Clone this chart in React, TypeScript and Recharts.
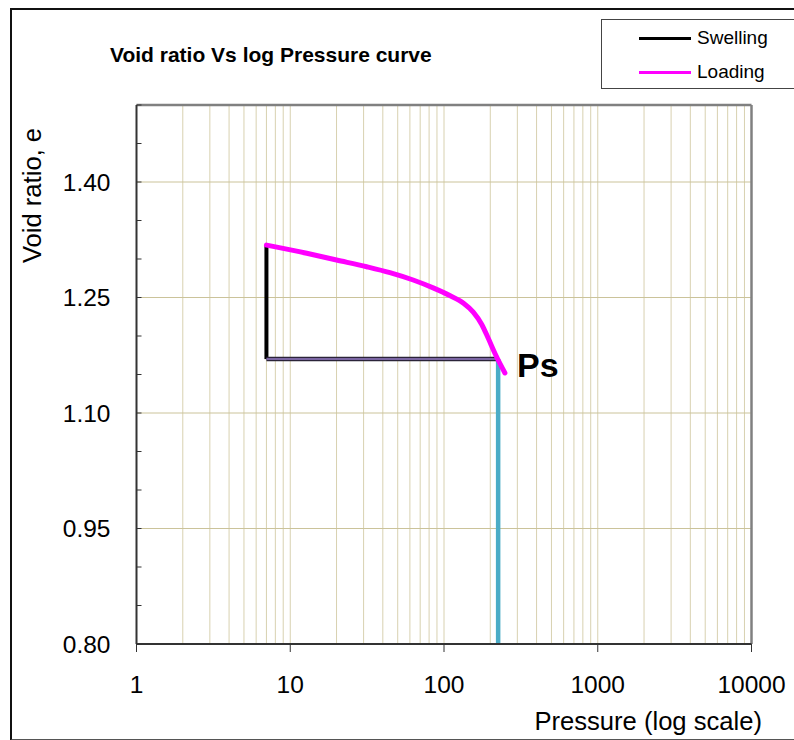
import React from 'react';
import { ComposedChart, Line, XAxis, YAxis, ReferenceLine } from 'recharts';

// swelling branch (black)
const swelling = [
  { p: 7, e: 1.318 },
  { p: 7, e: 1.17 },
];

// horizontal link at e0 up to Ps
const baseLine = [
  { p: 7, e: 1.17 },
  { p: 225, e: 1.17 },
];

// drop line from Ps to the axis
const psDrop = [
  { p: 225, e: 1.17 },
  { p: 225, e: 0.8 },
];

// loading curve (magenta)
const loading = [
  { p: 7, e: 1.318 },
  { p: 12.8, e: 1.3074 },
  { p: 20, e: 1.2987 },
  { p: 31.4, e: 1.29 },
  { p: 44.5, e: 1.2823 },
  { p: 63, e: 1.2727 },
  { p: 85, e: 1.2625 },
  { p: 109, e: 1.2525 },
  { p: 134, e: 1.2425 },
  { p: 155, e: 1.231 },
  { p: 176, e: 1.215 },
  { p: 194, e: 1.197 },
  { p: 215, e: 1.177 },
  { p: 249, e: 1.152 },
];

const xTicks = [1, 10, 100, 1000, 10000];
const yMajor = [0.8, 0.95, 1.1, 1.25, 1.4];
const yTicks = [0.8, 0.85, 0.9, 0.95, 1.0, 1.05, 1.1, 1.15, 1.2, 1.25, 1.3, 1.35, 1.4, 1.45, 1.5];
const xGrid = [
  2, 3, 4, 5, 6, 7, 8, 9, 10,
  20, 30, 40, 50, 60, 70, 80, 90, 100,
  200, 300, 400, 500, 600, 700, 800, 900, 1000,
  2000, 3000, 4000, 5000, 6000, 7000, 8000, 9000,
];
const yGrid = [0.95, 1.1, 1.25, 1.4];

const FONT = '"Liberation Sans", Arial, sans-serif';

const YTick = (props: any) => {
  const { x, y, payload } = props;
  const v = payload.value;
  const major = yMajor.some(m => Math.abs(m - v) < 1e-6);
  return (
    <g>
      <line x1={x} x2={x + 5} y1={y} y2={y} stroke="#333" strokeWidth={1} />
      {major && (
        <text x={x - 26} y={y} dy="0.36em" textAnchor="end" fontSize={24.5} fill="#000" fontFamily={FONT}>
          {v.toFixed(2)}
        </text>
      )}
    </g>
  );
};

export default function App() {
  return (
    <div style={{ position: 'absolute', left: 0, top: 0, width: 794, height: 740, overflow: 'hidden', background: '#fff', fontFamily: FONT }}>
      {/* outer frame, right side runs off the page */}
      <div style={{ position: 'absolute', left: 10, top: 8, width: 820, height: 729, borderLeft: '2.5px solid #111', borderTop: '2px solid #111', borderBottom: '2px solid #555' }} />

      <div style={{ position: 'absolute', left: 0, top: 0 }}>
        <ComposedChart width={794} height={740} margin={{ top: 105, right: 42.5, bottom: 56, left: 76.5 }}>
          <XAxis
            type="number"
            dataKey="p"
            scale="log"
            domain={[1, 10000]}
            ticks={xTicks}
            allowDataOverflow
            height={40}
            axisLine={{ stroke: '#333', strokeWidth: 2 }}
            tickLine={{ stroke: '#333' }}
            tickSize={8}
            tickMargin={23.5}
            tick={{ fontSize: 24.5, fill: '#000', fontFamily: FONT }}
          />
          <YAxis
            type="number"
            dataKey="e"
            domain={[0.8, 1.5]}
            ticks={yTicks}
            interval={0}
            allowDataOverflow
            width={60}
            axisLine={{ stroke: '#333', strokeWidth: 2 }}
            tickLine={false}
            tickSize={0}
            tickMargin={0}
            tick={<YTick />}
          />
          {xGrid.map(v => (
            <ReferenceLine key={'gx' + v} x={v} stroke="#d8d1b0" strokeWidth={1} />
          ))}
          {yGrid.map(v => (
            <ReferenceLine key={'gy' + v} y={v} stroke="#cbc39a" strokeWidth={1} />
          ))}
          <ReferenceLine y={1.5} stroke="#808080" strokeWidth={2.5} />
          <ReferenceLine x={10000} stroke="#808080" strokeWidth={2.5} />

          <Line data={psDrop} dataKey="e" stroke="#4bacc6" strokeWidth={4.5} dot={false} isAnimationActive={false} legendType="none" />
          <Line data={swelling} dataKey="e" name="Swelling" stroke="#000" strokeWidth={4} dot={false} isAnimationActive={false} />
          <Line data={baseLine} dataKey="e" stroke="#2b2438" strokeWidth={4.5} dot={false} isAnimationActive={false} legendType="none" />
          <Line data={baseLine} dataKey="e" stroke="#7b66a3" strokeWidth={2} dot={false} isAnimationActive={false} legendType="none" />
          <Line data={loading} dataKey="e" name="Loading" type="monotone" stroke="#ff00ff" strokeWidth={5} strokeLinecap="round" dot={false} isAnimationActive={false} />
        </ComposedChart>
      </div>

      <svg width={794} height={740} style={{ position: 'absolute', left: 0, top: 0, pointerEvents: 'none' }}>
        <text x={110} y={61.5} fontSize={21} fontWeight="bold" fill="#000" fontFamily={FONT}>
          Void ratio Vs log Pressure curve
        </text>
        <text x={41} y={195.5} fontSize={25.6} fill="#000" textAnchor="middle" fontFamily={FONT} transform="rotate(-90, 41, 195.5)">
          Void ratio, e
        </text>
        <text x={762} y={730} fontSize={25.6} fill="#000" textAnchor="end" fontFamily={FONT}>
          Pressure (log scale)
        </text>
        <text x={517} y={377} fontSize={34} fontWeight="bold" fill="#000" fontFamily={FONT}>
          Ps
        </text>
      </svg>

      {/* legend box, also cut by the right page edge */}
      <div style={{ position: 'absolute', left: 601, top: 19, width: 220, height: 68, border: '1.5px solid #444', background: '#fff' }}>
        {[{ label: 'Swelling', color: '#000' }, { label: 'Loading', color: '#ff00ff' }].map((it, i) => (
          <div key={it.label} style={{ position: 'absolute', left: 37, top: i === 0 ? 6 : 40, height: 24, display: 'flex', alignItems: 'center' }}>
            <div style={{ width: 52, height: 3, background: it.color }} />
            <span style={{ marginLeft: 6, fontSize: 19, color: '#000', fontFamily: FONT }}>{it.label}</span>
          </div>
        ))}
      </div>
    </div>
  );
}
